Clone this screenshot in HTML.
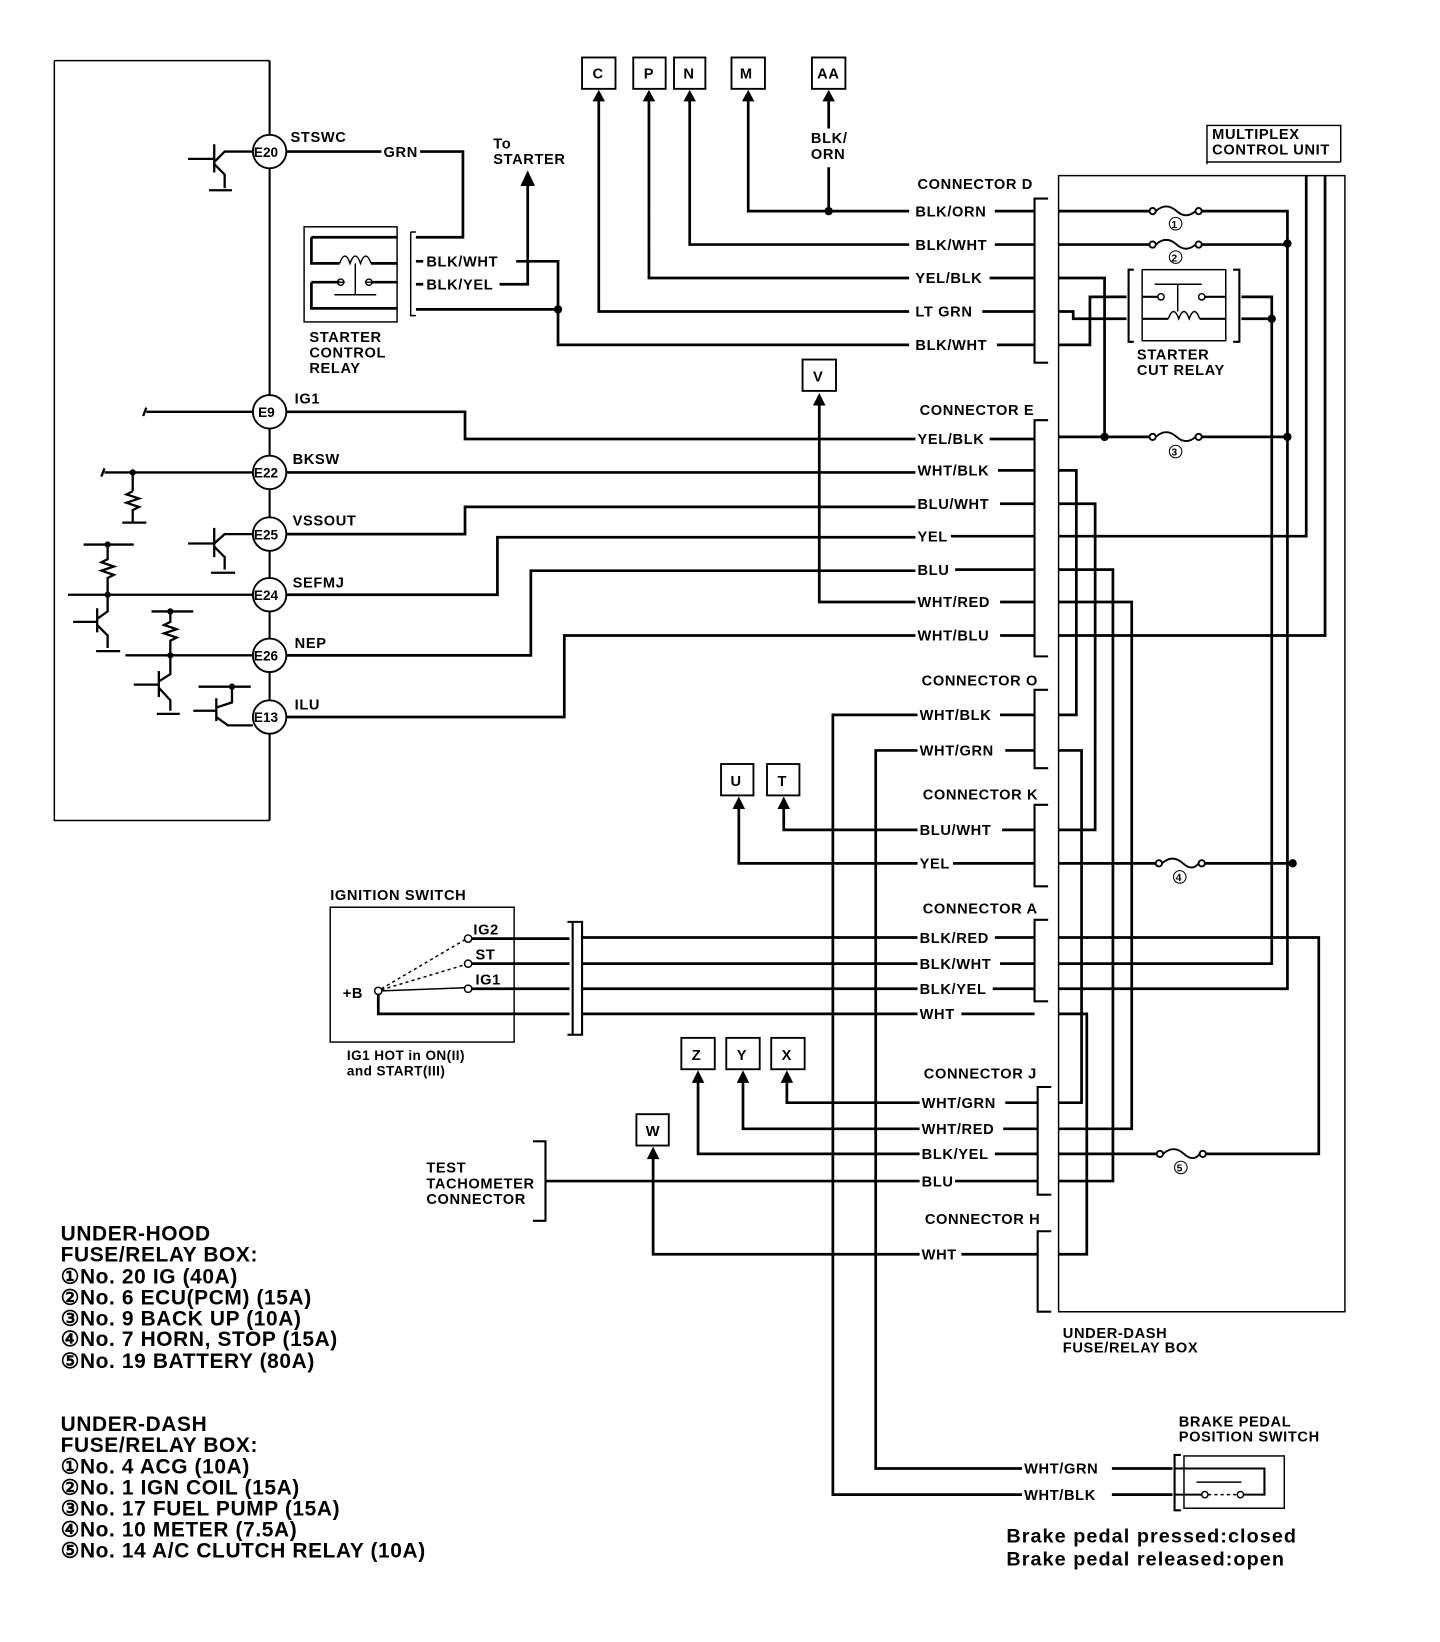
<!DOCTYPE html>
<html><head><meta charset="utf-8"><style>
html,body{margin:0;padding:0;background:#fff;}
svg{display:block;}
text{font-family:"Liberation Sans",Arial,sans-serif;font-weight:bold;fill:#000;}
.s{font-size:14px;letter-spacing:0.6px;}
.l{font-size:20px;letter-spacing:0.6px;}
.w{stroke:#000;stroke-width:2.6;fill:none;}
.t{stroke:#000;stroke-width:1.4;fill:none;}
</style></head><body>
<svg width="1440" height="1642" viewBox="0 0 1378 1571" preserveAspectRatio="none" xmlns="http://www.w3.org/2000/svg">
<!-- PCM box -->
<path class="t" d="M52 58 H258 M52 58 V785 H258"/>
<path class="w" d="M258 58 V129 M258 161 V378 M258 410 V436 M258 468 V495 M258 527 V553 M258 585 V611 M258 643 V670 M258 702 V785" style="stroke-width:2"/>
<g class="t" style="stroke-width:1.8">
<circle cx="258" cy="145" r="16"/><circle cx="258" cy="394" r="16"/><circle cx="258" cy="452" r="16"/><circle cx="258" cy="511" r="16"/><circle cx="258" cy="569" r="16"/><circle cx="258" cy="627" r="16"/><circle cx="258" cy="686" r="16"/>
</g>
<g>
<text x="243" y="150" style="font-size:13px">E20</text><text x="247" y="399" style="font-size:13px">E9</text><text x="243" y="457" style="font-size:13px">E22</text><text x="243" y="516" style="font-size:13px">E25</text><text x="243" y="574" style="font-size:13px">E24</text><text x="243" y="632" style="font-size:13px">E26</text><text x="243" y="691" style="font-size:13px">E13</text>
</g>
<g class="s">
<text x="278" y="136">STSWC</text><text x="282" y="386">IG1</text><text x="280" y="444">BKSW</text><text x="280" y="503">VSSOUT</text><text x="280" y="562">SEFMJ</text><text x="282" y="620">NEP</text><text x="282" y="679">ILU</text>
</g>
<!-- PCM internals -->
<g class="w" style="stroke-width:2.2">
<path d="M242 145 H215 L205 155 M205 138 V165 M205 157 L215 167 V180 M180 152 H205"/>
<path d="M200 182 H222"/>
<path d="M140 394 H242 M140 390 l-3 8"/>
<path d="M100 452 H242 M127 452 V470 M127 470 l-6 3 12 4 -12 4 12 4 -6 3 V500 M117 500 H140 M100 448 l-3 8"/>
<path d="M242 511 H215 L205 520 M205 505 V533 M205 523 L215 533 V545 M180 520 H205 M202 548 H225"/>
<path d="M80 521 H128 M103 521 V535 l-6 3 12 4 -12 4 12 4 -6 3 V569"/>
<path d="M65 569 H242 M103 569 V585 L93 592 M93 582 V605 M70 595 H93 M93 598 L103 608 V620 M92 623 H115"/>
<path d="M145 585 H185 M163 585 V595 l-6 3 12 4 -12 4 12 4 -6 3 V627"/>
<path d="M120 627 H242 M163 627 V645 L152 652 M152 642 V667 M128 655 H152 M152 658 L163 670 V680 M150 683 H172"/>
<path d="M190 657 H240 M222 657 V672 L207 677 M207 668 V690 M185 680 H207 M207 686 L218 694 H242"/>
</g>
<circle cx="127" cy="452" r="3"/><circle cx="103" cy="521" r="3"/><circle cx="103" cy="569" r="3"/><circle cx="163" cy="585" r="3"/><circle cx="163" cy="627" r="3"/><circle cx="222" cy="657" r="3"/>
<!-- starter control relay -->
<rect class="t" x="291" y="217" width="89" height="91"/>
<path class="t" d="M393 222 H398 M393 222 V302 H398"/>
<path class="w" d="M298 227 H380 M298 227 V252 H325 M355 252 H380 M298 270 H325 M355 270 H380 M298 270 V295 H380"/>
<path class="t" d="M325 252 q5 -14 10 0 q5 -14 10 0 q5 -14 10 0 M340 252 V282 M325 270 H330 M350 270 H355 M320 282 H360"/>
<circle class="t" cx="326" cy="270" r="3"/><circle class="t" cx="353" cy="270" r="3"/>
<g class="s"><text x="296" y="327">STARTER</text><text x="296" y="342">CONTROL</text><text x="296" y="357">RELAY</text></g>
<path class="w" d="M274 145 H365 M402 145 H443 V227 H398"/>
<text class="s" x="367" y="150">GRN</text>
<path class="w" d="M398 250 H405 M398 272 H405 M398 296 H534"/>
<text class="s" x="408" y="255">BLK/WHT</text><text class="s" x="408" y="277">BLK/YEL</text>
<path class="w" d="M494 250 H534 V330 H870 M478 272 H505 V175"/>
<polygon points="505,163 498,178 512,178"/>
<circle cx="534" cy="296" r="4"/>
<g class="s"><text x="472" y="142">To</text><text x="472" y="157">STARTER</text></g>
<!-- top boxes -->
<g class="t" style="stroke-width:1.8">
<rect x="557" y="55" width="32" height="30"/><rect x="606" y="55" width="31" height="30"/><rect x="645" y="55" width="30" height="30"/><rect x="700" y="55" width="32" height="30"/><rect x="777" y="55" width="32" height="30"/>
</g>
<g class="s"><text x="567" y="75">C</text><text x="616" y="75">P</text><text x="654" y="75">N</text><text x="708" y="75">M</text><text x="782" y="75">AA</text></g>
<g>
<polygon points="573,86 567,97 579,97"/><polygon points="621,86 615,97 627,97"/><polygon points="660,86 654,97 666,97"/><polygon points="716,86 710,97 722,97"/><polygon points="793,86 787,97 799,97"/>
</g>
<path class="w" d="M573 95 V298 H870 M621 95 V266 H870 M660 95 V234 H870 M716 95 V202 H870 M793 95 V123 M793 160 V202"/>
<circle cx="793" cy="202" r="4"/>
<g class="s"><text x="776" y="137">BLK/</text><text x="776" y="152">ORN</text></g>
<!-- connector D -->
<g class="s">
<text x="878" y="181">CONNECTOR D</text>
<text x="876" y="207">BLK/ORN</text><text x="876" y="239">BLK/WHT</text><text x="876" y="271">YEL/BLK</text><text x="876" y="303">LT GRN</text><text x="876" y="335">BLK/WHT</text>
</g>
<path class="w" d="M952 202 H990 M952 234 H990 M947 266 H990 M940 298 H990 M954 330 H990"/>
<path class="t" style="stroke-width:2" d="M1003 190 H990 V347 H1003"/>
<!-- under-dash box and multiplex -->
<path class="t" d="M1013 168 H1287 V1255 H1013 Z"/>
<path class="t" d="M1155 157 V120 H1283 V155 M1155 155 H1283"/>
<g class="s"><text x="1160" y="133">MULTIPLEX</text><text x="1160" y="148">CONTROL UNIT</text></g>
<path class="w" d="M1250 168 V513 H1013 M1268 168 V608 H1013"/>
<path class="w" d="M1013 202 H1100 M1150 202 H1232 V946 H1013 M1013 234 H1100 M1150 234 H1232"/>
<g class="t" style="stroke-width:1.8">
<circle cx="1103" cy="202" r="3"/><circle cx="1147" cy="202" r="3"/><path d="M1106 202 q10 -9 20 0 q9 8 18 0"/>
<circle cx="1103" cy="234" r="3"/><circle cx="1147" cy="234" r="3"/><path d="M1106 234 q10 -9 20 0 q9 8 18 0"/>
<circle cx="1103" cy="418" r="3"/><circle cx="1147" cy="418" r="3"/><path d="M1106 418 q10 -9 20 0 q9 8 18 0"/>
<circle cx="1109" cy="826" r="3"/><circle cx="1150" cy="826" r="3"/><path d="M1112 826 q10 -9 20 0 q9 8 15 0"/>
<circle cx="1110" cy="1104" r="3"/><circle cx="1151" cy="1104" r="3"/><path d="M1113 1104 q10 -9 20 0 q9 8 15 0"/>
<circle cx="1125" cy="214" r="6" stroke-width="1"/><circle cx="1125" cy="246" r="6" stroke-width="1"/><circle cx="1125" cy="432" r="6" stroke-width="1"/><circle cx="1129" cy="839" r="6" stroke-width="1"/><circle cx="1130" cy="1117" r="6" stroke-width="1"/>
</g>
<g><text x="1121" y="218" style="font-size:10px">1</text><text x="1121" y="250" style="font-size:10px">2</text><text x="1121" y="436" style="font-size:10px">3</text><text x="1125" y="843" style="font-size:10px">4</text><text x="1126" y="1121" style="font-size:10px">5</text></g>
<circle cx="1232" cy="233" r="4"/><circle cx="1232" cy="418" r="4"/><circle cx="1237" cy="826" r="4"/>
<!-- starter cut relay -->
<path class="w" d="M1013 266 H1057 V418 M1013 298 H1027 V305 H1078 M1013 330 H1043 V284 H1078"/>
<path class="t" style="stroke-width:2" d="M1085 258 H1080 V327 H1085 M1180 258 H1186 V327 H1180"/>
<rect class="t" x="1093" y="258" width="80" height="68"/>
<path class="w" style="stroke-width:2" d="M1093 284 H1108 M1153 284 H1173 M1093 305 H1118 M1148 305 H1173"/>
<path class="t" d="M1105 272 H1150 M1127 272 V298 M1118 305 q5 -14 10 0 q5 -14 10 0 q5 -14 10 0"/>
<circle class="t" cx="1111" cy="284" r="3"/><circle class="t" cx="1150" cy="284" r="3"/>
<path class="w" d="M1188 284 H1217 V922 H1013 M1188 305 H1217"/>
<circle cx="1217" cy="305" r="4"/>
<g class="s"><text x="1088" y="344">STARTER</text><text x="1088" y="359">CUT RELAY</text></g>
<path class="w" d="M1013 418 H1100 M1150 418 H1232"/>
<circle cx="1057" cy="418" r="4"/>
<path class="w" d="M1013 450 H1030 V684 H1013 M1013 482 H1048 V794 H1013 M1013 545 H1065 V1130 H1013 M1013 576 H1083 V1080 H1013 M1013 718 H1035 V1055 H1013 M1013 826 H1106 M1153 826 H1237 M1013 897 H1262 V1104 H1154 M1107 1104 H1013 M1013 970 H1040 V1200 H1013"/>
<!-- connector E -->
<g class="s">
<text x="880" y="397">CONNECTOR E</text>
<text x="878" y="425">YEL/BLK</text><text x="878" y="455">WHT/BLK</text><text x="878" y="487">BLU/WHT</text><text x="878" y="518">YEL</text><text x="878" y="550">BLU</text><text x="878" y="581">WHT/RED</text><text x="878" y="613">WHT/BLU</text>
</g>
<path class="t" style="stroke-width:2" d="M1003 402 H990 V628 H1003"/>
<path class="w" d="M947 420 H990 M955 450 H990 M957 482 H990 M910 513 H990 M914 545 H990 M957 576 H990 M957 608 H990"/>
<path class="w" d="M274 394 H445 V420 H876 M274 452 H876 M274 511 H445 V485 H876 M274 569 H476 V514 H876 M274 627 H508 V546 H876 M274 686 H540 V608 H876 M876 576 H784 V388"/>
<rect class="t" style="stroke-width:1.8" x="768" y="344" width="32" height="30"/><text class="s" x="778" y="365">V</text>
<polygon points="784,376 778,388 790,388"/>
<!-- connector O -->
<g class="s"><text x="882" y="656">CONNECTOR O</text><text x="880" y="689">WHT/BLK</text><text x="880" y="723">WHT/GRN</text></g>
<path class="t" style="stroke-width:2" d="M1003 660 H990 V735 H1003"/>
<path class="w" d="M957 684 H990 M962 718 H990 M878 684 H797 V1430 H978 M878 718 H838 V1405 H978"/>
<!-- connector K -->
<g class="s"><text x="883" y="765">CONNECTOR K</text><text x="880" y="799">BLU/WHT</text><text x="880" y="831">YEL</text></g>
<path class="t" style="stroke-width:2" d="M1003 770 H990 V848 H1003"/>
<path class="w" d="M959 794 H990 M912 826 H990 M878 794 H750 V772 M878 826 H707 V772"/>
<rect class="t" style="stroke-width:1.8" x="690" y="731" width="31" height="30"/><text class="s" x="699" y="752">U</text>
<rect class="t" style="stroke-width:1.8" x="734" y="731" width="31" height="30"/><text class="s" x="744" y="752">T</text>
<polygon points="707,762 701,774 713,774"/><polygon points="750,762 744,774 756,774"/>
<!-- connector A & ignition switch -->
<g class="s"><text x="883" y="874">CONNECTOR A</text><text x="880" y="902">BLK/RED</text><text x="880" y="927">BLK/WHT</text><text x="880" y="951">BLK/YEL</text><text x="880" y="975">WHT</text></g>
<path class="t" style="stroke-width:2" d="M1003 880 H990 V958 H1003"/>
<path class="w" d="M952 897 H990 M957 922 H990 M950 946 H990 M920 970 H990"/>
<path class="w" d="M557 897 H878 M557 922 H878 M557 946 H878 M557 970 H878"/>
<path class="t" style="stroke-width:2" d="M543 882 H557 V990 H543 M548 882 V990"/>
<rect class="t" x="316" y="868" width="176" height="129"/>
<text class="s" x="316" y="861">IGNITION SWITCH</text>
<text class="s" x="328" y="955">+B</text>
<circle class="t" cx="362" cy="948" r="3.5"/>
<circle class="t" cx="448" cy="898" r="3.5"/><circle class="t" cx="448" cy="922" r="3.5"/><circle class="t" cx="448" cy="946" r="3.5"/>
<path class="t" stroke-dasharray="3,3" d="M365 946 L445 899 M365 947 L445 923"/>
<path class="t" d="M365 948 L445 945"/>
<path class="w" d="M451 898 H545 M451 922 H545 M451 946 H545 M362 951 V970 H545"/>
<g class="s"><text x="453" y="894">IG2</text><text x="455" y="918">ST</text><text x="455" y="942">IG1</text></g>
<g><text x="332" y="1014" style="font-size:13px;letter-spacing:0.4px">IG1 HOT in ON(II)</text><text x="332" y="1029" style="font-size:13px;letter-spacing:0.4px">and START(III)</text></g>
<!-- connector J -->
<g class="s"><text x="884" y="1032">CONNECTOR J</text><text x="882" y="1060">WHT/GRN</text><text x="882" y="1085">WHT/RED</text><text x="882" y="1109">BLK/YEL</text><text x="882" y="1135">BLU</text></g>
<path class="t" style="stroke-width:2" d="M1006 1040 H993 V1143 H1006"/>
<path class="w" d="M962 1055 H993 M960 1080 H993 M952 1104 H993 M914 1130 H993"/>
<path class="w" d="M880 1055 H753 V1034 M880 1080 H711 V1034 M880 1104 H668 V1034 M880 1130 H522"/>
<rect class="t" style="stroke-width:1.8" x="652" y="993" width="32" height="30"/><text class="s" x="662" y="1014">Z</text>
<rect class="t" style="stroke-width:1.8" x="695" y="993" width="32" height="30"/><text class="s" x="705" y="1014">Y</text>
<rect class="t" style="stroke-width:1.8" x="738" y="993" width="32" height="30"/><text class="s" x="748" y="1014">X</text>
<polygon points="668,1024 662,1036 674,1036"/><polygon points="711,1024 705,1036 717,1036"/><polygon points="753,1024 747,1036 759,1036"/>
<path class="t" style="stroke-width:2" d="M510 1092 H522 V1168 H510"/>
<g class="s"><text x="408" y="1122">TEST</text><text x="408" y="1137">TACHOMETER</text><text x="408" y="1152">CONNECTOR</text></g>
<!-- connector H -->
<g class="s"><text x="885" y="1171">CONNECTOR H</text><text x="882" y="1205">WHT</text></g>
<path class="t" style="stroke-width:2" d="M1006 1178 H993 V1255 H1006"/>
<path class="w" d="M920 1200 H993 M880 1200 H625 V1107"/>
<rect class="t" style="stroke-width:1.8" x="609" y="1066" width="31" height="30"/><text class="s" x="618" y="1087">W</text>
<polygon points="625,1097 619,1109 631,1109"/>
<g class="s"><text x="1017" y="1280">UNDER-DASH</text><text x="1017" y="1294">FUSE/RELAY BOX</text></g>
<!-- brake switch -->
<g class="s"><text x="980" y="1410">WHT/GRN</text><text x="980" y="1435">WHT/BLK</text></g>
<path class="w" d="M1064 1405 H1122 M1064 1430 H1122"/>
<path class="t" style="stroke-width:2" d="M1130 1392 H1124 V1445 H1130"/>
<rect class="t" x="1133" y="1393" width="96" height="50"/>
<path class="w" style="stroke-width:2" d="M1124 1405 H1210 V1430 H1190 M1124 1430 H1150"/>
<path class="t" d="M1145 1418 H1188"/>
<path class="t" stroke-dasharray="3,3" d="M1156 1430 H1184"/>
<circle class="t" cx="1153" cy="1430" r="3"/><circle class="t" cx="1187" cy="1430" r="3"/>
<g class="s"><text x="1128" y="1365">BRAKE PEDAL</text><text x="1128" y="1379">POSITION SWITCH</text></g>
<g><text x="963" y="1476" style="font-size:19px;letter-spacing:1px">Brake pedal pressed:closed</text><text x="963" y="1498" style="font-size:19px;letter-spacing:1px">Brake pedal released:open</text></g>
<!-- legend -->
<g class="l">
<text x="58" y="1187">UNDER-HOOD</text>
<text x="58" y="1207">FUSE/RELAY BOX:</text>
<text x="58" y="1228">①No. 20 IG (40A)</text>
<text x="58" y="1248">②No. 6 ECU(PCM) (15A)</text>
<text x="58" y="1268">③No. 9 BACK UP (10A)</text>
<text x="58" y="1288">④No. 7 HORN, STOP (15A)</text>
<text x="58" y="1309">⑤No. 19 BATTERY (80A)</text>
<text x="58" y="1369">UNDER-DASH</text>
<text x="58" y="1389">FUSE/RELAY BOX:</text>
<text x="58" y="1410">①No. 4 ACG (10A)</text>
<text x="58" y="1430">②No. 1 IGN COIL (15A)</text>
<text x="58" y="1450">③No. 17 FUEL PUMP (15A)</text>
<text x="58" y="1470">④No. 10 METER (7.5A)</text>
<text x="58" y="1490">⑤No. 14 A/C CLUTCH RELAY (10A)</text>
</g>
</svg>
</body></html>
